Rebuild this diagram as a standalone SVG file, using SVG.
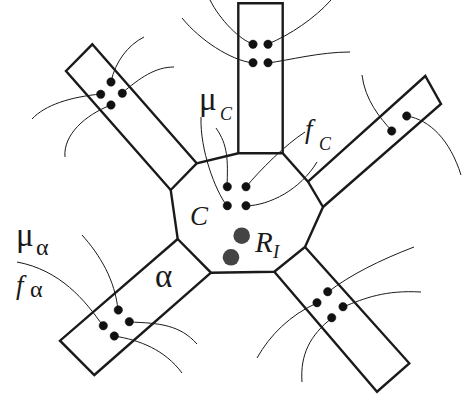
<svg xmlns="http://www.w3.org/2000/svg" width="462" height="401" viewBox="0 0 462 401">
<style>
.box{fill:none;stroke:#1a1a1a;stroke-width:2.4;stroke-linejoin:miter}
.wire{fill:none;stroke:#1a1a1a;stroke-width:1}
.dot{fill:#111;stroke:#111;stroke-width:0.5}
.big{fill:#444}
.t{font-family:"Liberation Serif","Times New Roman",serif;fill:#1a1a1a}
.i{font-style:italic}
</style>
<rect width="462" height="401" fill="#fff"/>
<g id="connectors">
<path class="wire" d="M111,82 C115,62 128,45 144,37"/>
<path class="wire" d="M122,93 C140,78 155,67 174,67"/>
<path class="wire" d="M101,94 C70,97 45,105 32,119"/>
<path class="wire" d="M111,105 C85,115 63,135 65,157"/>
<path class="wire" d="M268,44 C290,35 315,18 331,0"/>
<path class="wire" d="M268,63 C290,60 320,52 350,52"/>
<path class="wire" d="M253,44 C240,40 220,20 210,0"/>
<path class="wire" d="M253,63 C230,60 200,40 182,18"/>
<path class="wire" d="M392,131 C380,118 365,100 362,75"/>
<path class="wire" d="M407,116 C430,120 450,140 461,175"/>
<path class="wire" d="M227,187 C228,160 228,145 216,128"/>
<path class="wire" d="M227,206 C215,190 200,150 201,117"/>
<path class="wire" d="M246,187 C260,170 285,145 305,132"/>
<path class="wire" d="M246,206 C270,205 300,190 317,162"/>
<path class="wire" d="M118,310 C115,280 100,255 82,235"/>
<path class="wire" d="M103,326 C85,300 60,270 17,262"/>
<path class="wire" d="M129,322 C160,323 180,325 197,344"/>
<path class="wire" d="M114,336 C140,340 165,350 182,373"/>
<path class="wire" d="M328,292 C350,275 380,260 414,247"/>
<path class="wire" d="M343,307 C365,298 385,290 421,292"/>
<path class="wire" d="M317,303 C290,315 270,335 257,358"/>
<path class="wire" d="M332,318 C310,335 300,355 302,382"/>
</g>
<g id="cellC">
<polygon class="box" points="170.7,190 196.7,163.3 238.3,153.3 282.7,153.3 308,181.7 323,207 305,247 274.3,271.7 211,272.7 177.7,239"/>
<circle class="dot" cx="227.3" cy="186.7" r="4.2"/>
<circle class="dot" cx="246" cy="186.7" r="4.2"/>
<circle class="dot" cx="227.3" cy="205.7" r="4.2"/>
<circle class="dot" cx="246" cy="205.7" r="4.2"/>
<circle class="big" cx="241.7" cy="235.7" r="8.3"/>
<circle class="big" cx="231" cy="257.3" r="8.3"/>
<text class="t i" x="190" y="225" font-size="27">C</text>
<text class="t" x="255" y="251.7" font-size="29"><tspan class="i">R</tspan><tspan class="i" x="273" y="258" font-size="19">I</tspan></text>
</g>
<g id="armUL">
<polyline class="box" points="196.7,163.3 92.3,44.3 66,71 170.7,190"/>
<circle class="dot" cx="111" cy="82" r="4.2"/>
<circle class="dot" cx="100.7" cy="94.3" r="4.2"/>
<circle class="dot" cx="122.3" cy="93.3" r="4.2"/>
<circle class="dot" cx="111" cy="105" r="4.2"/>
</g>
<g id="armTop">
<polyline class="box" points="238.3,153.3 238.3,3.3 282.7,3.3 282.7,153.3"/>
<circle class="dot" cx="253" cy="44.3" r="4.2"/>
<circle class="dot" cx="268" cy="44.3" r="4.2"/>
<circle class="dot" cx="253" cy="62.7" r="4.2"/>
<circle class="dot" cx="268" cy="62.7" r="4.2"/>
</g>
<g id="armRight">
<polyline class="box" points="308,181.7 425.3,76 441,104 323,207"/>
<circle class="dot" cx="391.7" cy="131" r="4.2"/>
<circle class="dot" cx="406.7" cy="116" r="4.2"/>
</g>
<g id="armBR">
<polyline class="box" points="305,247 409.3,363.3 377,391.7 274.3,271.7"/>
<circle class="dot" cx="327.7" cy="291.7" r="4.2"/>
<circle class="dot" cx="317" cy="302.7" r="4.2"/>
<circle class="dot" cx="343" cy="306.7" r="4.2"/>
<circle class="dot" cx="331.7" cy="317.7" r="4.2"/>
</g>
<g id="armAlpha">
<polyline class="box" points="177.7,239 60,340.7 94.3,375 211,272.7"/>
<circle class="dot" cx="118.3" cy="310" r="4.2"/>
<circle class="dot" cx="103.3" cy="325.7" r="4.2"/>
<circle class="dot" cx="129.3" cy="321.7" r="4.2"/>
<circle class="dot" cx="114.3" cy="336" r="4.2"/>
<text class="t" x="155" y="287" font-size="33">α</text>
</g>
<g id="labels">
<text class="t" x="199" y="110" font-size="33">μ<tspan class="i" x="220" y="120" font-size="18">C</tspan></text>
<text class="t i" x="305" y="138" font-size="27">f<tspan x="319" y="150" font-size="18">C</tspan></text>
<text class="t" x="16" y="246" font-size="33">μ<tspan x="36" y="255" font-size="24">α</tspan></text>
<text class="t i" x="16" y="294" font-size="27">f<tspan font-style="normal" x="30" y="297" font-size="24">α</tspan></text>
</g>
</svg>
